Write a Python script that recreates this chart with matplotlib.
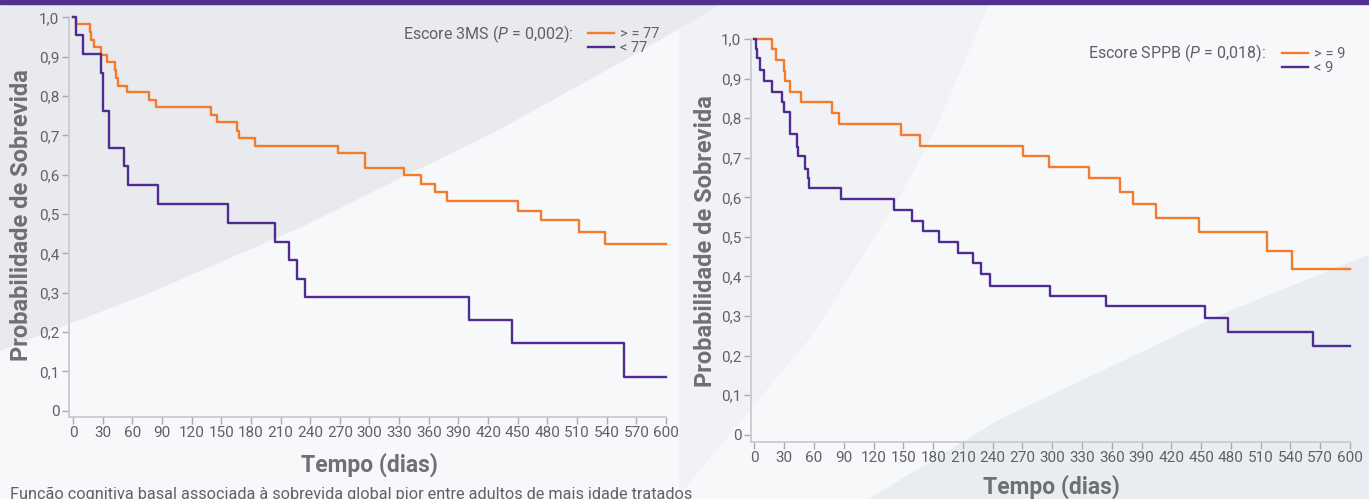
import numpy as np
import matplotlib
matplotlib.use("Agg")
from matplotlib import pyplot as plt

# ---- data ----
days_ticks = list(range(0, 601, 30))
prob_ticks = [0, 0.1, 0.2, 0.3, 0.4, 0.5, 0.6, 0.7, 0.8, 0.9, 1.0]
prob_labels = ["0", "0,1", "0,2", "0,3", "0,4", "0,5", "0,6", "0,7", "0,8", "0,9", "1,0"]

t_3ms_hi = [0, 3, 17, 18, 21.5, 28, 34, 43, 44, 45.5, 55, 77, 84.5, 140, 146, 166, 168, 184,
            268, 295, 335, 352, 366, 378, 450, 474, 512, 538, 600]
s_3ms_hi = [1.0, 0.982, 0.962, 0.943, 0.925, 0.905, 0.886, 0.867, 0.847, 0.826, 0.810, 0.791, 0.771,
            0.752, 0.733, 0.712, 0.694, 0.674, 0.655, 0.618, 0.598, 0.577, 0.556, 0.534, 0.509,
            0.485, 0.455, 0.423, 0.423]
t_3ms_lo = [0, 3, 10.5, 28.6, 30, 36, 51.5, 55.5, 86, 157, 204, 219, 227, 235, 401, 444, 558, 600]
s_3ms_lo = [1.0, 0.955, 0.907, 0.859, 0.763, 0.669, 0.621, 0.574, 0.526, 0.478, 0.430, 0.382,
            0.336, 0.289, 0.231, 0.173, 0.087, 0.087]

t_sppb_hi = [0, 17.8, 21.9, 29.9, 30.6, 35.3, 46.4, 77.9, 85.4, 148, 167, 270.6, 297, 337.5,
             368.5, 381, 404.8, 447.5, 516, 542, 600]
s_sppb_hi = [1.0, 0.975, 0.947, 0.920, 0.894, 0.867, 0.841, 0.813, 0.785, 0.758, 0.731, 0.705,
             0.677, 0.648, 0.614, 0.584, 0.547, 0.512, 0.465, 0.418, 0.418]
t_sppb_lo = [0, 1.7, 2.7, 5.7, 10, 17.4, 27.4, 29.5, 35.3, 43, 44, 51.4, 54.4, 55, 86.7, 141,
             158.8, 169.6, 185.8, 205.5, 220, 228.7, 237, 298, 354, 453.5, 477.5, 563, 600]
s_sppb_lo = [1.0, 0.974, 0.952, 0.921, 0.895, 0.867, 0.840, 0.815, 0.759, 0.727, 0.704, 0.672,
             0.648, 0.623, 0.595, 0.569, 0.540, 0.515, 0.488, 0.459, 0.434, 0.405, 0.377, 0.351,
             0.325, 0.295, 0.260, 0.225, 0.225]

ORANGE = "#F47A2C"
PURPLE = "#4F2C91"
GREY_TXT = "#5F6166"

plt.rcParams["font.family"] = ["Roboto", "DejaVu Sans"]
plt.rcParams["mathtext.fontset"] = "custom"
plt.rcParams["mathtext.it"] = "Roboto:italic"
plt.rcParams["mathtext.rm"] = "Roboto"

W, H = 1369, 499
fig = plt.figure(figsize=(W / 100, H / 100), dpi=100)

# decorative background
bg = fig.add_axes([0, 0, 1, 1], zorder=-5)
bg.set_xlim(0, W)
bg.set_ylim(H, 0)
bg.axis("off")
bg.add_patch(plt.Rectangle((0, 0), W, H, color="#F7F8FA", zorder=0))
bg.fill([0, 728, 620, 497, 300, 150, 0], [0, 0, 62, 130, 227, 292, 350], color="#E8EAED", zorder=1)
bg.fill([680, 728, 990, 933, 897, 813, 680], [30, 0, 0, 133, 200, 333, 493], color="#F1F2F5", zorder=1)
bg.fill([1369, 1217, 1000, 870, 1369], [255, 317, 420, 499, 499], color="#E9ECF0", zorder=1)
bg.add_patch(plt.Rectangle((0, 0), W, 4, color="#52308F", zorder=2))


def px_axes(x0, x1, ytop, ybot):
    return fig.add_axes([x0 / W, 1 - ybot / H, (x1 - x0) / W, (ybot - ytop) / H])


def style(ax, xoff, yoff):
    ax.set_facecolor("none")
    ax.set_xlim(-xoff, 600)
    ax.set_ylim(-yoff, 1.0)
    for s in ["top", "right"]:
        ax.spines[s].set_visible(False)
    for s in ["left", "bottom"]:
        ax.spines[s].set_color("#C9CBCF")
        ax.spines[s].set_linewidth(1.3)
    ax.set_xticks(days_ticks)
    ax.set_yticks(prob_ticks)
    ax.set_yticklabels(prob_labels)
    ax.tick_params(axis="both", colors="#A8AAAE", length=5, width=1, labelsize=11,
                   labelcolor=GREY_TXT, pad=2)


def legend(ax, x, y):
    leg = ax.legend(loc="upper left", bbox_to_anchor=(x / W, 1 - y / H), bbox_transform=fig.transFigure,
                    frameon=False, fontsize=10.5, handlelength=1.8, handletextpad=0.4,
                    labelspacing=0.0, borderpad=0, borderaxespad=0)
    for t in leg.get_texts():
        t.set_color(GREY_TXT)


# left panel: 3MS
ax1 = px_axes(69, 666, 17.3, 416.7)
style(ax1, 4, 0.015)
ax1.step(t_3ms_hi, s_3ms_hi, where="post", color=ORANGE, lw=1.7, label="> = 77", clip_on=False)
ax1.step(t_3ms_lo, s_3ms_lo, where="post", color=PURPLE, lw=1.7, label="< 77", clip_on=False)
legend(ax1, 588, 27)
fig.text(574 / W, 1 - 34 / H, "Escore 3MS ($P$ = 0,002):", ha="right", va="center",
         fontsize=11.5, color=GREY_TXT)

# right panel: SPPB
ax2 = px_axes(751, 1350, 39.2, 441.7)
style(ax2, 3.5, 0.018)
ax2.step(t_sppb_hi, s_sppb_hi, where="post", color=ORANGE, lw=1.7, label="> = 9", clip_on=False)
ax2.step(t_sppb_lo, s_sppb_lo, where="post", color=PURPLE, lw=1.7, label="< 9", clip_on=False)
legend(ax2, 1282, 47)
fig.text(1266 / W, 1 - 53 / H, "Escore SPPB ($P$ = 0,018):", ha="right", va="center",
         fontsize=11.5, color=GREY_TXT)

# axis titles
ylab = dict(fontsize=17, fontweight="bold", color="#6E7075", rotation=90, ha="center", va="center")
xlab = dict(fontsize=16.5, fontweight="bold", color="#6E7075", ha="center", va="center")
fig.text(22 / W, 1 - 215 / H, "Probabilidade de Sobrevida", **ylab)
fig.text(705 / W, 1 - 241 / H, "Probabilidade de Sobrevida", **ylab)
fig.text(369 / W, 1 - 465 / H, "Tempo (dias)", **xlab)
fig.text(1051 / W, 1 - 487 / H, "Tempo (dias)", **xlab)

fig.text(10 / W, 1 - 494 / H,
         "Função cognitiva basal associada à sobrevida global pior entre adultos de mais idade tratados",
         ha="left", va="center", fontsize=11.7, color=GREY_TXT)

fig.savefig("out.png", dpi=100)
